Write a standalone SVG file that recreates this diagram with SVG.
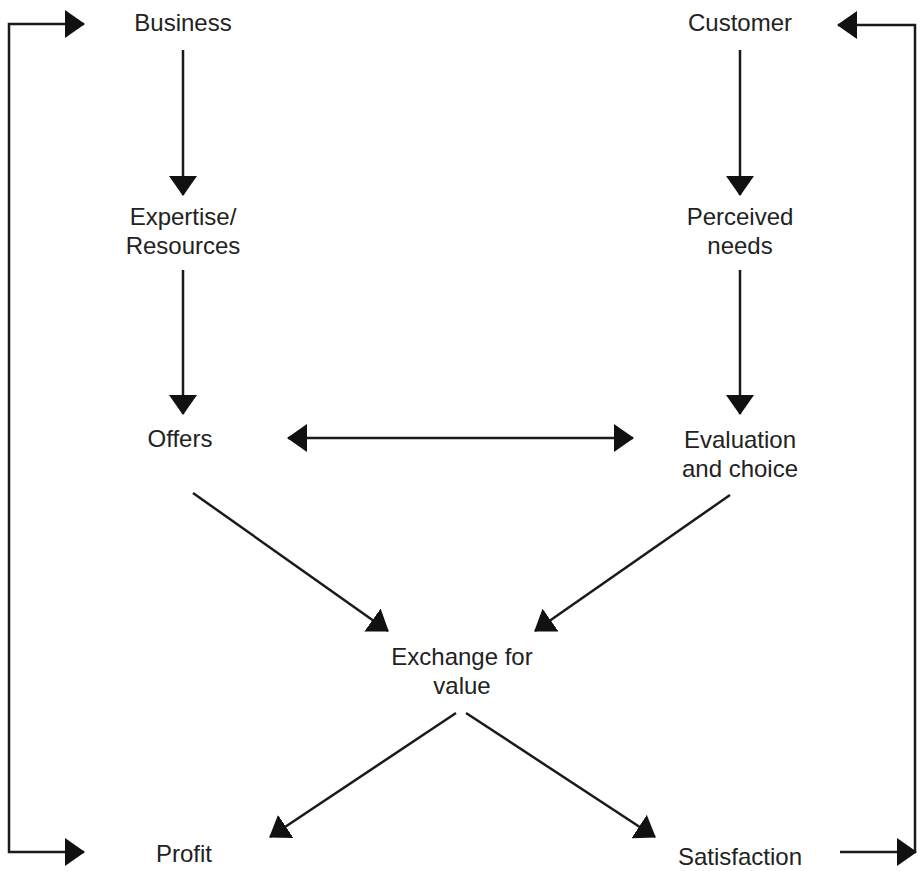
<svg xmlns="http://www.w3.org/2000/svg" width="920" height="871" viewBox="0 0 920 871">
  <style>
    .lbl { font-family: "Liberation Sans", "Open Sans", sans-serif; font-size: 24px; fill: #222; text-anchor: middle; }
    .ln { fill: none; stroke: #1a1a1a; stroke-width: 2.5; }
    .arr { marker-end: url(#head); }
    .both { marker-start: url(#head); marker-end: url(#head); }
  </style>
  <defs>
    <marker id="head" viewBox="0 0 20 28" refX="19" refY="14" markerWidth="20" markerHeight="28" markerUnits="userSpaceOnUse" orient="auto-start-reverse">
      <path d="M0,0 L20,14 L0,28 Z" fill="#111"/>
    </marker>
  </defs>
  <rect width="920" height="871" fill="#fff"/>

  <!-- connectors -->
  <g id="connectors">
    <line class="ln arr" x1="183" y1="50" x2="183" y2="195"/>
    <line class="ln arr" x1="183" y1="270" x2="183" y2="414"/>
    <line class="ln arr" x1="740" y1="50" x2="740" y2="195"/>
    <line class="ln arr" x1="740" y1="270" x2="740" y2="414"/>
    <line class="ln both" x1="288" y1="438" x2="633" y2="438"/>
    <line class="ln arr" x1="193" y1="493" x2="388" y2="631"/>
    <line class="ln arr" x1="730" y1="495" x2="535" y2="631"/>
    <line class="ln arr" x1="456" y1="713" x2="270" y2="837"/>
    <line class="ln arr" x1="466" y1="713" x2="655" y2="837"/>
    <!-- left feedback loop -->
    <path class="ln both" d="M84,24 H9 V852 H84"/>
    <!-- right feedback loop -->
    <line class="ln arr" x1="840" y1="852" x2="916" y2="852"/>
    <path class="ln arr" d="M915,852 V25 H838"/>
  </g>

  <!-- nodes -->
  <g id="business"><text class="lbl" x="183" y="31">Business</text></g>
  <g id="expertise"><text class="lbl" x="183" y="225">Expertise/</text><text class="lbl" x="183" y="254">Resources</text></g>
  <g id="offers"><text class="lbl" x="180" y="447">Offers</text></g>
  <g id="customer"><text class="lbl" x="740" y="31">Customer</text></g>
  <g id="needs"><text class="lbl" x="740" y="225">Perceived</text><text class="lbl" x="740" y="254">needs</text></g>
  <g id="evaluation"><text class="lbl" x="740" y="448">Evaluation</text><text class="lbl" x="740" y="477">and choice</text></g>
  <g id="exchange"><text class="lbl" x="462" y="665">Exchange for</text><text class="lbl" x="462" y="694">value</text></g>
  <g id="profit"><text class="lbl" x="184" y="862">Profit</text></g>
  <g id="satisfaction"><text class="lbl" x="740" y="865">Satisfaction</text></g>
</svg>
